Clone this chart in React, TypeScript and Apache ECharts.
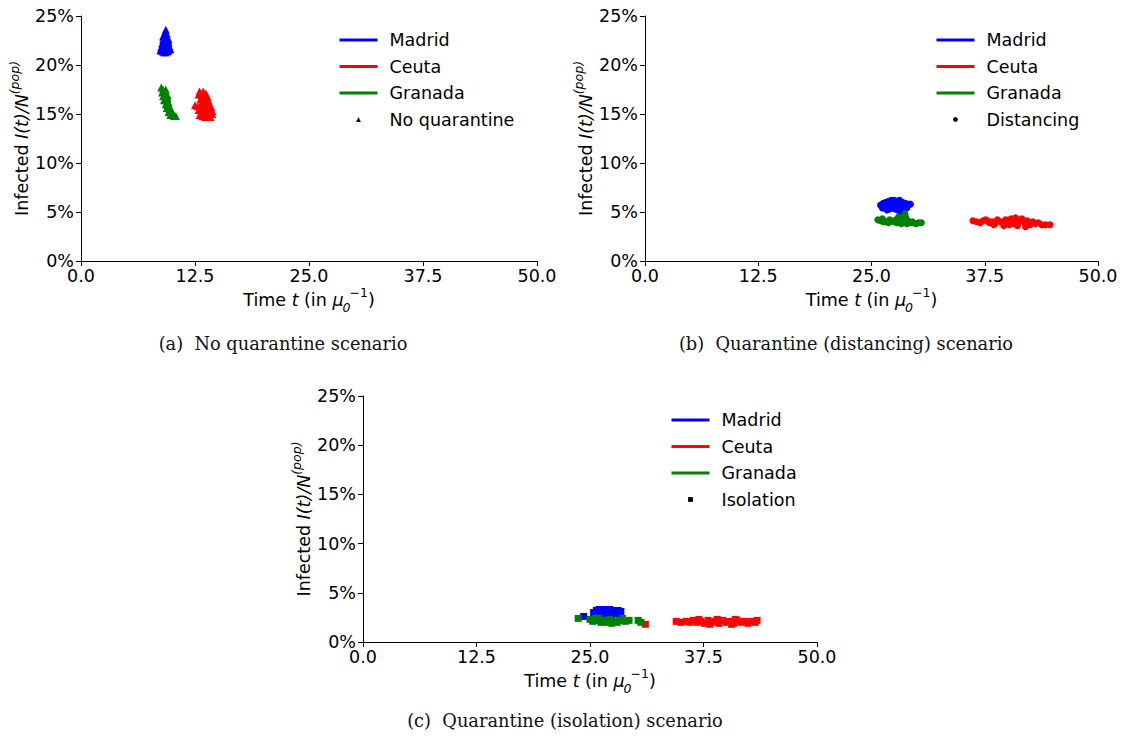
import React, { useEffect, useRef } from "react";
import * as echarts from "echarts";

// Cities and their colours
const cities = ["Madrid", "Ceuta", "Granada"];
const cityColors = ["#0000ff", "#ff0000", "#008000"];

// Axis ticks
const timeTicks = [0, 12.5, 25, 37.5, 50];
const infectedTicks = [0, 5, 10, 15, 20, 25];

// Scenario names and marker symbols
const scenarios = ["No quarantine", "Distancing", "Isolation"];
const scenarioSymbols = ["triangle", "circle", "rect"];
const captions = [
  "(a)  No quarantine scenario",
  "(b)  Quarantine (distancing) scenario",
  "(c)  Quarantine (isolation) scenario",
];

// Peak points [time t, infected %] — no quarantine
const noQuarantineMadrid = [
  [9.3, 23.6], [9.2, 23.3], [9.4, 23.2], [9.1, 23.0], [9.3, 22.9], [9.5, 22.8], [9.0, 22.6],
  [9.2, 22.5], [9.4, 22.4], [9.6, 22.3], [8.9, 22.2], [9.1, 22.1], [9.3, 22.0], [9.5, 21.9],
  [9.7, 21.9], [8.8, 21.8], [9.0, 21.7], [9.2, 21.6], [9.4, 21.6], [9.6, 21.5], [8.7, 21.5],
  [8.9, 21.4], [9.1, 21.3], [9.3, 21.3], [9.5, 21.4], [9.8, 21.6], [9.0, 22.9], [9.6, 22.6],
];
const noQuarantineCeuta = [
  [13.0, 17.3], [13.4, 17.3], [13.7, 17.1], [12.9, 17.0], [13.2, 16.9], [13.5, 16.8], [13.9, 16.7],
  [13.1, 16.5], [13.4, 16.4], [13.7, 16.5], [14.0, 16.3], [12.5, 15.9], [12.8, 15.8], [13.1, 15.9],
  [13.4, 15.9], [13.7, 15.8], [14.0, 15.9], [14.3, 15.7], [12.9, 15.4], [13.2, 15.3], [13.5, 15.4],
  [13.8, 15.3], [14.1, 15.2], [14.4, 15.3], [13.0, 14.9], [13.3, 14.8], [13.6, 14.7], [13.9, 14.8],
  [14.2, 14.7], [14.4, 15.0], [13.3, 16.2], [13.6, 16.1],
];
const noQuarantineGranada = [
  [8.8, 17.7], [9.0, 17.5], [9.3, 17.5], [8.9, 17.2], [9.2, 17.1], [9.4, 17.0], [9.0, 16.8],
  [9.3, 16.7], [9.5, 16.6], [9.1, 16.4], [9.4, 16.3], [9.6, 16.2], [9.3, 16.0], [9.5, 15.9],
  [9.7, 15.8], [9.4, 15.6], [9.7, 15.5], [9.9, 15.4], [9.6, 15.2], [9.9, 15.1], [10.1, 15.0],
  [9.8, 14.9], [10.2, 14.8], [10.4, 14.8], [9.5, 16.9], [9.2, 16.5],
];

// Peak points — quarantine (distancing)
const distancingMadrid = [
  [26.0, 5.7], [26.3, 5.9], [26.6, 6.0], [26.9, 6.1], [27.2, 6.2], [27.5, 6.2], [27.8, 6.1],
  [28.1, 6.2], [28.4, 6.0], [28.7, 5.9], [29.0, 5.8], [29.3, 5.8], [26.2, 5.4], [26.5, 5.5],
  [26.8, 5.6], [27.1, 5.7], [27.4, 5.8], [27.7, 5.6], [28.0, 5.7], [28.3, 5.5], [28.6, 5.5],
  [28.9, 5.4], [26.7, 5.2], [27.0, 5.3], [27.3, 5.4], [27.9, 5.2], [28.2, 5.0], [27.6, 5.3],
];
const distancingCeuta = [
  [36.2, 4.1], [36.6, 4.0], [37.0, 3.9], [37.3, 4.1], [37.6, 4.2], [38.0, 3.9], [38.3, 4.0],
  [38.6, 3.8], [38.9, 4.2], [39.2, 4.0], [39.5, 3.9], [39.8, 4.2], [40.1, 4.0], [40.4, 4.3],
  [40.7, 3.8], [41.0, 4.2], [41.3, 4.0], [41.6, 4.3], [41.9, 3.9], [42.2, 4.1], [42.5, 3.7],
  [42.8, 4.0], [43.1, 3.8], [43.4, 3.9], [43.8, 3.7], [44.2, 3.7], [44.7, 3.7], [38.5, 3.7],
  [39.6, 3.6], [40.2, 3.7], [41.1, 3.6], [42.0, 3.5], [37.8, 4.1], [40.9, 4.4],
];
const distancingGranada = [
  [25.7, 4.2], [26.0, 4.1], [26.3, 4.0], [26.6, 4.0], [26.9, 3.9], [27.2, 4.1], [27.5, 4.0],
  [27.8, 3.9], [28.1, 4.1], [28.4, 4.3], [28.6, 4.6], [28.8, 4.4], [29.0, 4.1], [29.3, 3.9],
  [29.6, 3.9], [29.9, 3.8], [30.2, 3.9], [30.5, 3.9], [26.2, 4.3], [27.0, 4.2], [27.7, 4.2],
  [28.3, 3.8], [28.9, 3.8], [29.5, 4.0], [28.0, 4.5], [28.7, 4.8],
];

// Peak points — quarantine (isolation)
const isolationMadrid = [
  [24.3, 2.6], [25.4, 3.0], [25.7, 3.2], [26.0, 3.3], [26.3, 3.2], [26.6, 3.3], [26.9, 3.2],
  [27.2, 3.3], [27.5, 3.2], [27.8, 3.1], [28.1, 3.2], [28.4, 3.1], [25.6, 2.8], [26.1, 2.9],
  [26.5, 2.8], [27.0, 2.9], [27.4, 2.8], [27.9, 2.9], [28.3, 2.8],
];
const isolationCeuta = [
  [31.1, 1.8], [34.5, 2.1], [35.0, 2.0], [35.6, 2.1], [36.0, 2.0], [36.4, 2.2], [36.8, 2.0],
  [37.2, 2.1], [37.6, 1.9], [38.0, 2.2], [38.4, 2.0], [38.8, 2.1], [39.2, 1.9], [39.6, 2.2],
  [40.0, 2.0], [40.4, 2.1], [40.8, 1.9], [41.2, 2.2], [41.6, 2.0], [42.0, 2.1], [42.4, 1.9],
  [42.8, 2.1], [43.2, 2.0], [43.4, 2.2], [37.0, 2.3], [39.0, 2.3], [41.0, 2.3], [38.2, 1.8],
  [40.6, 1.8],
];
const isolationGranada = [
  [23.7, 2.4], [25.0, 2.3], [25.3, 2.1], [25.6, 2.4], [25.9, 2.2], [26.2, 2.0], [26.5, 2.2],
  [26.8, 2.0], [27.1, 2.1], [27.4, 1.9], [27.7, 2.1], [28.0, 2.0], [28.3, 2.2], [28.6, 2.4],
  [28.9, 2.1], [29.3, 2.2], [30.3, 2.2], [30.6, 2.0], [26.0, 2.4], [27.2, 2.3],
];

const panelData = [
  [noQuarantineMadrid, noQuarantineCeuta, noQuarantineGranada],
  [distancingMadrid, distancingCeuta, distancingGranada],
  [isolationMadrid, isolationCeuta, isolationGranada],
];

// Layout of the three panels
const grids = [
  { left: 81, top: 16, width: 456, height: 245 },
  { left: 645, top: 16, width: 453, height: 245 },
  { left: 363, top: 396, width: 454, height: 246 },
];
const legendPos = [
  { left: 338, top: 30 },
  { left: 935, top: 30 },
  { left: 670, top: 410 },
];
const captionPos = [
  { x: 283, y: 343 },
  { x: 846, y: 343 },
  { x: 565, y: 720 },
];

const SANS = "DejaVu Sans";
const FS = 17.5;

export default function App() {
  const ref = useRef<HTMLDivElement>(null);

  useEffect(() => {
    if (!ref.current) return;
    const chart = echarts.init(ref.current, null, { renderer: "svg" });

    const xAxes = grids.map((_, i) => ({
      type: "value",
      gridIndex: i,
      min: 0,
      max: 50,
      interval: 12.5,
      name: "{n|Time }{i|t}{n| (in }{i|μ}{sub|0}{sup|−1}{n|)}",
      nameLocation: "middle",
      nameGap: 25,
      nameTextStyle: {
        color: "#000",
        fontFamily: SANS,
        fontSize: FS,
        rich: {
          n: { fontFamily: SANS, fontSize: FS, color: "#000", lineHeight: 28 },
          i: { fontFamily: SANS, fontSize: FS, fontStyle: "italic", color: "#000", lineHeight: 28 },
          sub: {
            fontFamily: SANS, fontSize: 12.5, fontStyle: "italic", color: "#000",
            width: 0, padding: [0, 0, 0, 3], verticalAlign: "bottom", lineHeight: 14,
          },
          sup: {
            fontFamily: SANS, fontSize: 12.5, color: "#000",
            padding: [0, 0, 0, 3], verticalAlign: "top", lineHeight: 14,
          },
        },
      },
      axisLine: { show: true, lineStyle: { color: "#000", width: 1 } },
      axisTick: { show: true, length: 5, lineStyle: { color: "#000", width: 1 } },
      axisLabel: {
        color: "#000",
        fontFamily: SANS,
        fontSize: FS,
        margin: 6,
        formatter: (v: number) => v.toFixed(1),
        customValues: timeTicks,
      },
      splitLine: { show: false },
    }));

    const yAxes = grids.map((_, i) => ({
      type: "value",
      gridIndex: i,
      min: 0,
      max: 25,
      interval: 5,
      name: "{n|Infected }{i|I(t)/N}{s|(pop)}",
      nameLocation: "middle",
      nameRotate: 90,
      nameGap: 45,
      nameTextStyle: {
        color: "#000",
        fontFamily: SANS,
        fontSize: FS,
        rich: {
          n: { fontFamily: SANS, fontSize: FS, color: "#000", lineHeight: 28 },
          i: { fontFamily: SANS, fontSize: FS, fontStyle: "italic", color: "#000", lineHeight: 28 },
          s: { fontFamily: SANS, fontSize: 12.5, fontStyle: "italic", color: "#000", verticalAlign: "top", lineHeight: 14 },
        },
      },
      axisLine: { show: true, lineStyle: { color: "#000", width: 1 } },
      axisTick: { show: true, length: 5, lineStyle: { color: "#000", width: 1 } },
      axisLabel: {
        color: "#000",
        fontFamily: SANS,
        fontSize: FS,
        margin: 7,
        formatter: "{value}%",
        customValues: infectedTicks,
      },
      splitLine: { show: false },
    }));

    const series: any[] = [];
    // legend line entries for cities
    cities.forEach((c, k) => {
      series.push({
        type: "line",
        name: c,
        xAxisIndex: 0,
        yAxisIndex: 0,
        data: [],
        symbol: "circle",
        color: cityColors[k],
        lineStyle: { width: 3, color: cityColors[k] },
      });
    });
    // legend marker entries for scenarios
    scenarios.forEach((s, p) => {
      series.push({
        type: "line",
        name: s,
        xAxisIndex: p,
        yAxisIndex: p,
        data: [],
        symbol: scenarioSymbols[p],
        color: "#000",
        lineStyle: { width: 0, color: "#000" },
      });
    });
    // peak scatter clouds
    panelData.forEach((sets, p) => {
      sets.forEach((pts, k) => {
        series.push({
          type: "scatter",
          name: `${cities[k]} / ${scenarios[p]}`,
          xAxisIndex: p,
          yAxisIndex: p,
          data: pts,
          symbol: scenarioSymbols[p],
          symbolSize: p === 0 ? 8 : 7,
          itemStyle: { color: cityColors[k], opacity: 1 },
          z: 2 + k,
        });
      });
    });

    const legends = scenarios.map((s, p) => ({
      orient: "vertical",
      left: legendPos[p].left,
      top: legendPos[p].top,
      padding: 0,
      itemWidth: 38,
      itemHeight: 6,
      itemGap: 6.5,
      selectedMode: false,
      textStyle: {
        fontFamily: SANS,
        fontSize: FS,
        color: "#000",
        lineHeight: 20,
        padding: [0, 0, 0, 7],
      },
      data: [
        ...cities.map((c) => ({
          name: c,
          itemStyle: { opacity: 0, borderWidth: 0 },
          lineStyle: { width: 3 },
        })),
        {
          name: s,
          itemStyle: { color: "#000", borderWidth: 0 },
          lineStyle: { width: 0 },
        },
      ],
    }));

    const graphic = captions.map((t, p) => ({
      type: "text",
      x: captionPos[p].x,
      y: captionPos[p].y,
      style: {
        text: t,
        fill: "#111",
        font: "17.8px 'DejaVu Serif'",
        textAlign: "center",
        textVerticalAlign: "middle",
      },
    }));

    chart.setOption({
      animation: false,
      backgroundColor: "#fff",
      grid: grids,
      xAxis: xAxes,
      yAxis: yAxes,
      legend: legends,
      series,
      graphic,
    });

    return () => chart.dispose();
  }, []);

  return (
    <div
      ref={ref}
      style={{ position: "fixed", left: 0, top: 0, width: 1124, height: 738 }}
    />
  );
}
